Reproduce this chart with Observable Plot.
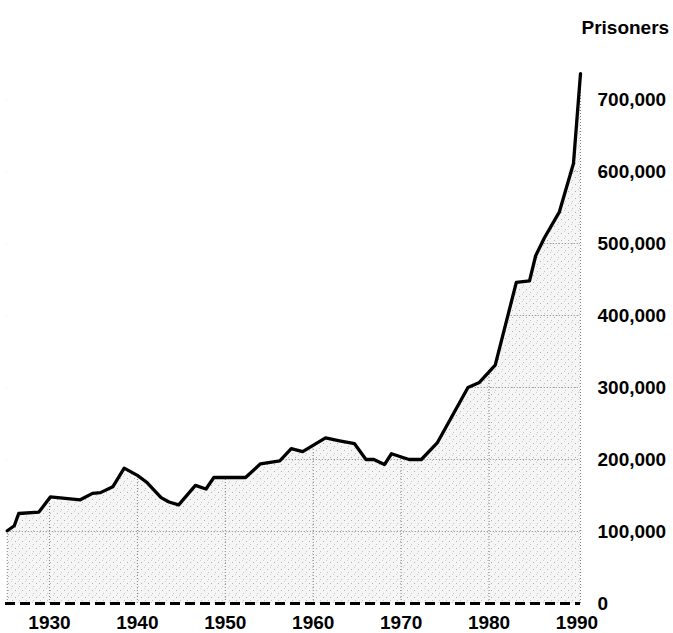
<!DOCTYPE html>
<html><head><meta charset="utf-8">
<script src="https://cdn.jsdelivr.net/npm/d3@7"></script>
<script src="https://cdn.jsdelivr.net/npm/@observablehq/plot@0.6"></script>
<style>
body{margin:0;background:#fff;}
#chart svg text{font-weight:bold;}
</style></head><body><div id="chart"></div>
<script>
const years = [1925.2,1926.0,1926.5,1928.8,1930.1,1933.5,1934.9,1935.8,1937.2,1938.5,1940.0,1941.1,1942.7,1943.6,1944.7,1946.6,1947.8,1948.7,1952.3,1954.0,1956.2,1957.5,1958.8,1961.4,1963.0,1964.7,1966.0,1966.9,1968.1,1968.9,1970.9,1972.3,1974.1,1977.6,1978.9,1980.7,1983.1,1984.6,1985.3,1986.3,1988.0,1989.6,1990.4];
const prisoners = [101000,108000,125000,127000,148000,144000,153000,154000,162000,188000,178000,168000,147000,141000,137000,164000,159000,175000,175000,194000,198000,215000,211000,230000,226000,222000,200000,200000,193000,208000,200000,200000,223000,300000,307000,331000,446000,448000,483000,508000,544000,611000,736000];
const yTicks = [0,100000,200000,300000,400000,500000,600000,700000];
const xTicks = [1930,1940,1950,1960,1970,1980,1990];
const gridYears = [1930,1940,1950,1960,1970,1980];
const yTitle = ["Prisoners"];

const data = years.map((year, i) => ({year, prisoners: prisoners[i]}));
const first = data[0], last = data[data.length - 1];
const yTop = 800000;

const chart = Plot.plot({
  width: 673, height: 633,
  marginLeft: 5, marginRight: 93, marginTop: 27, marginBottom: 30,
  style: {fontFamily: "'Liberation Sans', Arial, sans-serif", fontSize: "19px", background: "#fff", color: "#000"},
  x: {domain: [1925, 1990.4], ticks: xTicks, tickFormat: d => String(d), tickSize: 0, tickPadding: 12, label: null},
  y: {domain: [0, yTop], axis: "right", ticks: yTicks, tickFormat: d3.format(","), tickSize: 0, tickPadding: 17, label: null},
  marks: [
    Plot.areaY(data, {x: "year", y: "prisoners", fill: "url(#stipple)"}),
    Plot.ruleY(yTicks.slice(1), {x1: first.year, x2: last.year, stroke: "#808080", strokeDasharray: "1,2"}),
    Plot.ruleX(gridYears, {y1: 0, y2: yTop, stroke: "#808080", strokeDasharray: "1,2"}),
    Plot.areaY(data, {x: "year", y1: "prisoners", y2: yTop, fill: "#fff"}),
    Plot.ruleX([first, last], {x: "year", y1: 0, y2: "prisoners", stroke: "#808080", strokeDasharray: "1,2"}),
    Plot.line(data, {x: "year", y: "prisoners", stroke: "#000", strokeWidth: 3.3}),
    Plot.ruleY([0], {x1: 1925, x2: 1990.4, stroke: "#000", strokeWidth: 3, strokeDasharray: "10,5"}),
    Plot.text(yTitle, {text: d => d, frameAnchor: "top-right", textAnchor: "start", dx: 1, dy: -7, fontSize: 19, fontWeight: "bold", fill: "#000"})
  ]
});

const ns = "http://www.w3.org/2000/svg";
const defs = document.createElementNS(ns, "defs");
defs.innerHTML = '<pattern id="stipple" width="7" height="7" patternUnits="userSpaceOnUse">' +
  '<rect width="7" height="7" fill="#f5f5f5"/>' +
  '<rect x="1" y="2" width="1" height="1" fill="#b0b0b0"/>' +
  '<rect x="5" y="5" width="1" height="1" fill="#c4c4c4"/>' +
  '<rect x="4" y="0" width="1" height="1" fill="#d0d0d0"/>' +
  '</pattern>';
chart.insertBefore(defs, chart.firstChild);
document.getElementById("chart").appendChild(chart);
</script>
</body></html>
